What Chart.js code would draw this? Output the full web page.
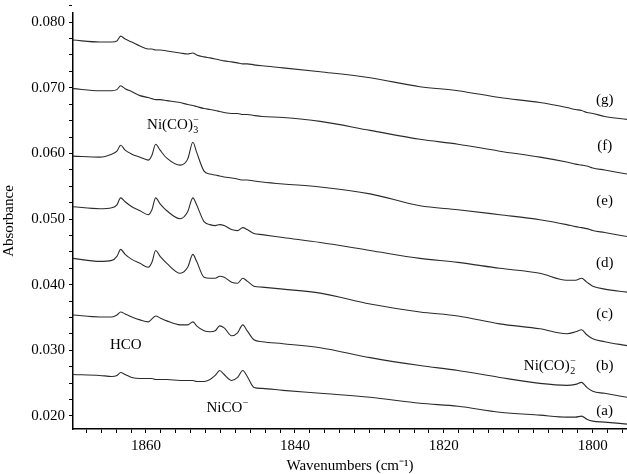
<!DOCTYPE html>
<html>
<head>
<meta charset="utf-8">
<script src="https://cdn.jsdelivr.net/npm/chart.js@4.4.0/dist/chart.umd.min.js"></script>
<style>
html, body { margin: 0; padding: 0; background: #fff; }
</style>
</head>
<body>
<canvas id="irChart" width="627" height="474"></canvas>
<script>
// wavenumber grid (cm-1), shared by all spectra
const wavenumbers = [1869.8, 1866.2, 1864.6, 1863.9, 1863.4, 1862.8, 1861.9, 1860.8, 1859.7, 1859.2,
	1858.7, 1858.1, 1857.2, 1855.4, 1854.4, 1853.7, 1853.2, 1852.2, 1851.4, 1850.7,
	1850.1, 1849.5, 1848.5, 1847.7, 1847.0, 1846.4, 1845.5, 1844.4, 1841.6, 1836.6,
	1829.9, 1823.2, 1818.1, 1812.5, 1807.1, 1803.5, 1802.3, 1801.5, 1800.8, 1800.0,
	1798.4, 1795.4];

const specA = [0.02631, 0.02616, 0.02601, 0.02616, 0.02661, 0.02631, 0.02586, 0.02570, 0.02570, 0.02570,
	0.02555, 0.02555, 0.02555, 0.02540, 0.02540, 0.02540, 0.02525, 0.02525, 0.02555, 0.02616,
	0.02692, 0.02631, 0.02540, 0.02586, 0.02692, 0.02601, 0.02434, 0.02419, 0.02389, 0.02344,
	0.02283, 0.02192, 0.02147, 0.02056, 0.02011, 0.01981, 0.01981, 0.01996, 0.01950, 0.01920,
	0.01905, 0.01875];
const specB = [0.03538, 0.03508, 0.03508, 0.03538, 0.03584, 0.03554, 0.03508, 0.03463, 0.03433, 0.03478,
	0.03523, 0.03493, 0.03448, 0.03387, 0.03387, 0.03433, 0.03372, 0.03296, 0.03281, 0.03296,
	0.03372, 0.03342, 0.03221, 0.03266, 0.03387, 0.03296, 0.03160, 0.03130, 0.03100, 0.03039,
	0.02888, 0.02767, 0.02692, 0.02586, 0.02495, 0.02465, 0.02480, 0.02510, 0.02434, 0.02374,
	0.02344, 0.02283];
const specC = [0.04400, 0.04355, 0.04370, 0.04431, 0.04537, 0.04461, 0.04385, 0.04325, 0.04264, 0.04340,
	0.04521, 0.04431, 0.04325, 0.04174, 0.04264, 0.04461, 0.04355, 0.04113, 0.04098, 0.04098,
	0.04128, 0.04113, 0.04038, 0.04022, 0.04098, 0.04053, 0.03977, 0.03962, 0.03932, 0.03871,
	0.03705, 0.03584, 0.03523, 0.03402, 0.03327, 0.03251, 0.03281, 0.03312, 0.03236, 0.03175,
	0.03130, 0.03070];
const specD = [0.05187, 0.05157, 0.05172, 0.05217, 0.05323, 0.05263, 0.05187, 0.05126, 0.05066, 0.05142,
	0.05323, 0.05232, 0.05126, 0.05005, 0.05111, 0.05323, 0.05217, 0.04960, 0.04915, 0.04900,
	0.04915, 0.04900, 0.04839, 0.04824, 0.04869, 0.04839, 0.04779, 0.04763, 0.04718, 0.04642,
	0.04521, 0.04400, 0.04340, 0.04249, 0.04174, 0.04068, 0.04068, 0.04098, 0.04038, 0.03977,
	0.03932, 0.03886];
const specE = [0.05958, 0.05943, 0.05989, 0.06034, 0.06125, 0.06049, 0.05989, 0.05943, 0.05898, 0.05973,
	0.06140, 0.06049, 0.05928, 0.05822, 0.05913, 0.06170, 0.06019, 0.05731, 0.05686, 0.05671,
	0.05656, 0.05641, 0.05626, 0.05610, 0.05595, 0.05595, 0.05580, 0.05565, 0.05535, 0.05489,
	0.05384, 0.05202, 0.05142, 0.05066, 0.04990, 0.04915, 0.04884, 0.04869, 0.04854, 0.04824,
	0.04794, 0.04733];
const specF = [0.06987, 0.06956, 0.06956, 0.06972, 0.07032, 0.06987, 0.06941, 0.06881, 0.06851, 0.06835,
	0.06820, 0.06820, 0.06805, 0.06775, 0.06745, 0.06730, 0.06714, 0.06684, 0.06669, 0.06654,
	0.06639, 0.06624, 0.06609, 0.06609, 0.06593, 0.06593, 0.06578, 0.06563, 0.06548, 0.06488,
	0.06351, 0.06215, 0.06140, 0.06034, 0.05943, 0.05868, 0.05837, 0.05822, 0.05807, 0.05777,
	0.05747, 0.05686];
const specG = [0.07728, 0.07698, 0.07698, 0.07713, 0.07788, 0.07743, 0.07698, 0.07637, 0.07592, 0.07592,
	0.07577, 0.07577, 0.07561, 0.07531, 0.07516, 0.07531, 0.07501, 0.07471, 0.07456, 0.07440,
	0.07425, 0.07410, 0.07395, 0.07380, 0.07365, 0.07365, 0.07350, 0.07335, 0.07304, 0.07244,
	0.07153, 0.07017, 0.06956, 0.06851, 0.06775, 0.06699, 0.06669, 0.06654, 0.06624, 0.06609,
	0.06563, 0.06518];

const spectra = [specA, specB, specC, specD, specE, specF, specG];
const traceNames = ["(a)", "(b)", "(c)", "(d)", "(e)", "(f)", "(g)"];
const traceLabelY = [0.02071, 0.02752, 0.03554, 0.04325, 0.05278, 0.06110, 0.06820];
const traceLabelX = 1798.4;

const xMajor = [1860, 1840, 1820, 1800];
const yMajor = [0.020, 0.030, 0.040, 0.050, 0.060, 0.070, 0.080];

// band assignments written on the plot
const bandNotes = [
	{ x: 1856.4, y: 0.06427, parts: [["Ni(CO)", ""], ["3", "sub"], ["\u2212", "sup"]] },
	{ x: 1862.7, y: 0.03085, parts: [["HCO", ""]] },
	{ x: 1849.1, y: 0.02117, parts: [["NiCO", ""], ["\u2212", "sup"]] },
	{ x: 1805.8, y: 0.02752, parts: [["Ni(CO)", ""], ["2", "sub"], ["\u2212", "sup"]] },
];

const SERIF = "'Liberation Serif', 'Times New Roman', serif";
const ink = "#000";

const xMinor = [];
for (let w = 1796; w <= 1868; w += 2) xMinor.push(w);
const yMinor = [];
for (let i = 0; i <= 25; i++) yMinor.push(+(0.0200 + i * 0.0025).toFixed(4));

function isMajor(v, list) {
	return list.some(m => Math.abs(m - v) < 1e-7);
}

const notesPlugin = {
	id: "notes",
	afterDatasetsDraw(chart) {
		const c = chart.ctx;
		const xs = chart.scales.x, ys = chart.scales.y;
		c.save();
		c.fillStyle = ink;
		c.textBaseline = "middle";
		c.textAlign = "center";
		c.font = "15px " + SERIF;
		traceNames.forEach((t, i) => {
			c.fillText(t, xs.getPixelForValue(traceLabelX), ys.getPixelForValue(traceLabelY[i]));
		});
		bandNotes.forEach(n => {
			let width = 0;
			let extra = 0;
			n.parts.forEach(p => {
				if (p[1] === "") {
					c.font = "15px " + SERIF;
					width += c.measureText(p[0]).width;
				} else {
					c.font = "10px " + SERIF;
					extra = Math.max(extra, c.measureText(p[0]).width);
				}
			});
			let px = xs.getPixelForValue(n.x) - (width + extra) / 2;
			const py = ys.getPixelForValue(n.y);
			c.textAlign = "left";
			let tail = px;
			n.parts.forEach(p => {
				if (p[1] === "") {
					c.font = "15px " + SERIF;
					c.fillText(p[0], tail, py);
					tail += c.measureText(p[0]).width;
				} else if (p[1] === "sub") {
					c.font = "10px " + SERIF;
					c.fillText(p[0], tail + 0.5, py + 5);
				} else {
					c.font = "10px " + SERIF;
					c.fillText(p[0], tail + 0.5, py - 5);
				}
			});
		});
		c.restore();
	},
};

const ctx = document.getElementById("irChart");

const irChart = new Chart(ctx, {
	type: "line",
	data: {
		datasets: spectra.map((s, i) => ({
			label: traceNames[i],
			data: s.map((v, j) => ({ x: wavenumbers[j], y: v })),
			borderColor: "#2b2b2b",
			borderWidth: 1.1,
			pointRadius: 0,
			fill: false,
			cubicInterpolationMode: "monotone",
		})),
	},
	options: {
		responsive: false,
		animation: false,
		layout: { padding: { top: 10, right: 0, left: 0, bottom: 0 } },
		plugins: {
			legend: { display: false },
			tooltip: { enabled: false },
		},
		scales: {
			x: {
				type: "linear",
				reverse: true,
				min: 1795.4,
				max: 1869.8,
				afterBuildTicks: s => { s.ticks = xMinor.map(v => ({ value: v })); },
				afterFit: s => { s.height = 45; },
				ticks: {
					autoSkip: false,
					maxRotation: 0,
					padding: 4,
					color: ink,
					font: { family: SERIF, size: 15 },
					callback: v => (isMajor(v, xMajor) ? String(v) : ""),
				},
				grid: { drawOnChartArea: false, drawTicks: true, tickLength: 4, color: ink },
				border: { color: ink, width: 1.5 },
				title: {
					display: true,
					text: "Wavenumbers (cm\u207B\u00B9)",
					color: ink,
					font: { family: SERIF, size: 15, lineHeight: 1 },
					padding: { top: 0, bottom: 0 },
				},
			},
			y: {
				type: "linear",
				min: 0.0180,
				max: 0.0814,
				afterBuildTicks: s => { s.ticks = yMinor.map(v => ({ value: v })); },
				afterFit: s => { s.width = 73; },
				ticks: {
					autoSkip: false,
					padding: 4,
					color: ink,
					font: { family: SERIF, size: 15 },
					callback: v => (isMajor(v, yMajor) ? v.toFixed(3) : ""),
				},
				grid: { drawOnChartArea: false, drawTicks: true, tickLength: 4, color: ink },
				border: { color: ink, width: 1.5 },
				title: {
					display: true,
					text: "Absorbance",
					color: ink,
					font: { family: SERIF, size: 15, lineHeight: 1 },
					padding: { top: 2, bottom: 0 },
				},
			},
		},
	},
	plugins: [notesPlugin],
});
</script>
</body>
</html>
